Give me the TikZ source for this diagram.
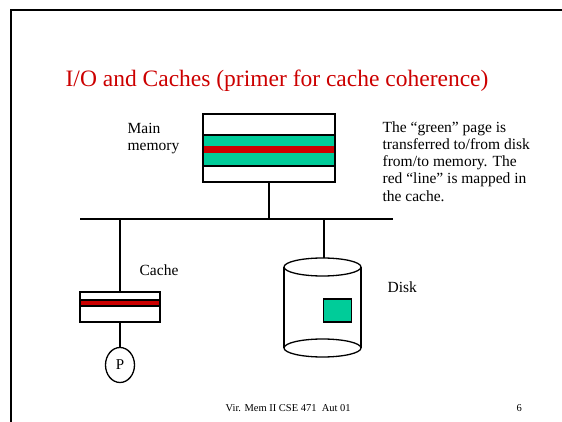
\documentclass[tikz,border=0pt]{standalone}
\usepackage{fontspec}
\setmainfont{Liberation Serif}
\usepackage{xcolor}
\usepackage{tikz}
\usetikzlibrary{calc,shapes.geometric}
\definecolor{pagegreen}{RGB}{0,204,153}
\definecolor{linered}{RGB}{204,0,0}

\begin{document}
\begin{tikzpicture}[x=1pt,y=-1pt,line width=1.3pt,
  txt/.style={inner sep=0pt,anchor=base west,font=\fontsize{15.5}{17.2}\selectfont,align=left}]
  \useasboundingbox (0,0) rectangle (562,422);
  % slide frame
  \draw[line width=2pt] (11,422) -- (11,10) -- (562,10);
  \node[txt,text=linered,font=\fontsize{23.5}{28}\selectfont] (title) at (65,87) {I/O and Caches (primer for cache coherence)};
  % main memory
  \fill[pagegreen] (203,135) rectangle (335,166);
  \fill[linered] (203,146) rectangle (335,153);
  \draw (203,135) -- (335,135);
  \draw (203,166) -- (335,166);
  \node[draw,minimum width=132pt,minimum height=68pt,inner sep=0pt] (mem) at (269,148) {};
  \node[txt] (memlbl) at (127,151) {Main\\memory};
  % bus
  \coordinate (busL) at (80,219);
  \coordinate (busR) at (393,219);
  \draw (busL) -- (busR);
  \draw (mem.south) -- (mem.south |- busL);
  % cache
  \fill[linered] (80,300) rectangle (160,306);
  \draw (80,300) -- (160,300);
  \draw (80,306) -- (160,306);
  \node[draw,minimum width=80pt,minimum height=30pt,inner sep=0pt] (cache) at (120,307) {};
  \node[txt] (cachelbl) at (139,275) {Cache};
  \draw (cache.north) -- (cache.north |- busL);
  \node[draw,ellipse,minimum width=29pt,minimum height=35pt,inner sep=0pt] (proc) at (120,365) {};
  \node[font=\fontsize{15}{17}\selectfont] at (proc) {P};
  \draw (cache.south) -- (proc.north);
  % disk
  \draw (284,267) -- (284,348);
  \draw (361,267) -- (361,348);
  \draw[fill=white] (322.5,267) ellipse (38.5pt and 9pt);
  \draw (284,348) arc[start angle=180,end angle=360,x radius=38.5pt,y radius=9pt];
  \draw (361,348) arc[start angle=0,end angle=180,x radius=38.5pt,y radius=9pt];
  \coordinate (disk) at (324,258);
  \draw (disk) -- (disk |- busL);
  \node[draw,fill=pagegreen,minimum width=28pt,minimum height=23pt,inner sep=0pt] (page) at (337.5,310.5) {};
  \node[txt] (disklbl) at (387,292) {Disk};
  % note
  \node[txt] (note) at (382,201) {The ``green'' page is\\transferred to/from disk\\from/to memory. The\\red ``line'' is mapped in\\the cache.};
  % footer
  \node[txt,font=\fontsize{10.5}{12}\selectfont] (foot) at (225,411) {Vir. Mem II CSE 471~ Aut 01};
  \node[txt,font=\fontsize{10.5}{12}\selectfont] (pnum) at (516,411) {6};
\end{tikzpicture}
\end{document}
